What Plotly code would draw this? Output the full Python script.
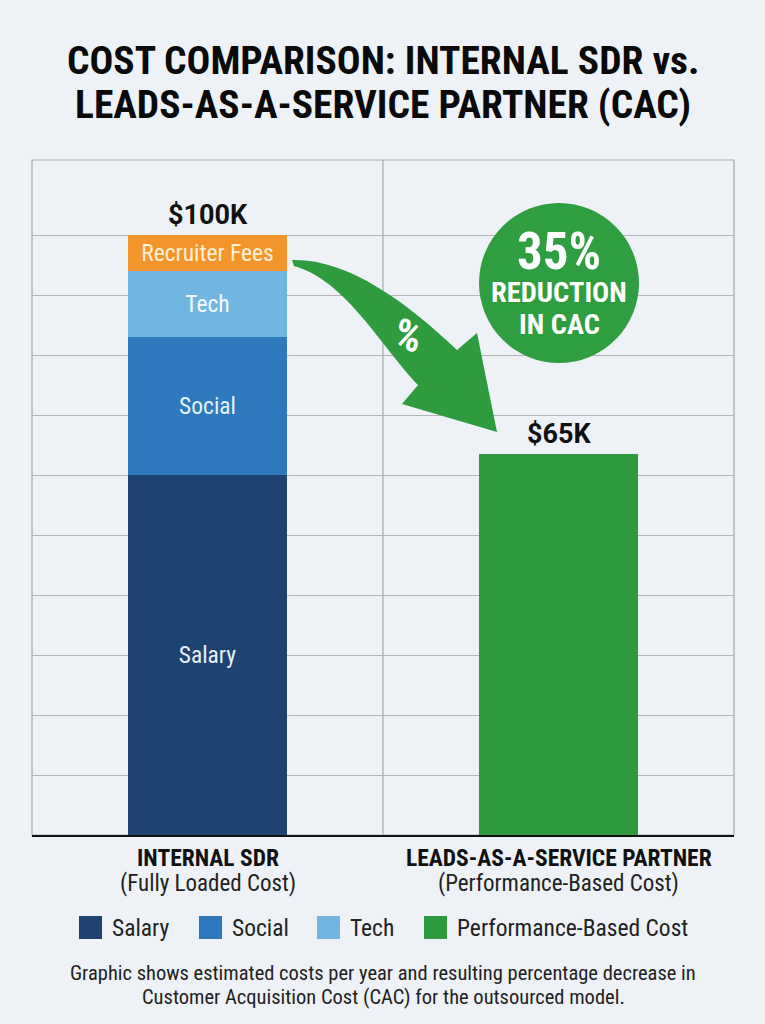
import plotly.graph_objects as go

# ---------------- data ----------------
categories = ["INTERNAL SDR", "LEADS-AS-A-SERVICE PARTNER"]
cat_sub = ["(Fully Loaded Cost)", "(Performance-Based Cost)"]
internal_parts = ["Salary", "Social", "Tech", "Recruiter Fees"]
internal_values = [60, 23, 11, 6]          # $K
partner_value = 63.5                        # $K (bar height as drawn)
total_labels = ["$100K", "$65K"]
reduction_text = ["35%", "REDUCTION", "IN CAC"]
legend_items = ["Salary", "Social", "Tech", "Performance-Based Cost"]
grid_vals = [10, 20, 30, 40, 50, 60, 70, 80, 90, 100]
title_lines = ["COST COMPARISON: INTERNAL SDR vs.", "LEADS-AS-A-SERVICE PARTNER (CAC)"]
footnote_lines = ["Graphic shows estimated costs per year and resulting percentage decrease in",
                  "Customer Acquisition Cost (CAC) for the outsourced model."]

# ---------------- styles ----------------
FONT = "Roboto Condensed, Liberation Sans Narrow, DejaVu Sans Condensed, Roboto, sans-serif"
FONT_WIDE = "Roboto, Arial, sans-serif"
BG = "#EEF2F6"
part_colors = {"Salary": "#1F4370", "Social": "#2E79BD", "Tech": "#70B6E1",
               "Recruiter Fees": "#F4952B", "Performance-Based Cost": "#2E9B3E"}
part_text = {"Salary": "#E6F0FA", "Social": "#E6F2FC", "Tech": "#F4FAFF",
             "Recruiter Fees": "#FFEFD6"}
GREEN = "#2E9B3E"

W, H = 765, 1024
X0, X1, Y0, Y1 = 32, 734, 160, 835   # plot area in pixels


def px(x):
    return (x - X0) / (X1 - X0)


def py(y):
    return (Y1 - y) / (Y1 - Y0)


fig = go.Figure()
for name, val in zip(internal_parts, internal_values):
    fig.add_trace(go.Bar(
        x=[categories[0]], y=[val], name=name,
        marker=dict(color=part_colors[name], line=dict(width=0)),
        width=0.453, text=[name], textposition="inside",
        insidetextanchor="middle", textangle=0,
        textfont=dict(family=FONT, size=23.5, color=part_text[name]),
        showlegend=False, hoverinfo="skip"))
fig.add_trace(go.Bar(
    x=[categories[1]], y=[partner_value], name="Performance-Based Cost",
    marker=dict(color=part_colors["Performance-Based Cost"], line=dict(width=0)),
    width=0.453, showlegend=False, hoverinfo="skip"))

annotations = []
# title
for line, yy in zip(title_lines, [61, 104]):
    annotations.append(dict(x=0.5, y=py(yy), xref="paper", yref="paper", text=f"<b>{line}</b>",
                            showarrow=False, xanchor="center", yanchor="middle",
                            font=dict(family=FONT, size=39.5, color="#0A0A0A")))

# totals above bars
totals = [sum(internal_values), partner_value]
for cat, tot, lab in zip(categories, totals, total_labels):
    annotations.append(dict(x=cat, y=tot, xref="x", yref="y", text=f"<b>{lab}</b>",
                            showarrow=False, xanchor="center", yanchor="bottom", yshift=2,
                            font=dict(family=FONT_WIDE, size=27, color="#111111")))

# category labels
for cat, sub in zip(categories, cat_sub):
    annotations.append(dict(x=cat, y=py(858), xref="x", yref="paper", text=f"<b>{cat}</b>",
                            showarrow=False, xanchor="center", yanchor="middle",
                            font=dict(family=FONT, size=23.5, color="#111111")))
    annotations.append(dict(x=cat, y=py(883), xref="x", yref="paper", text=sub,
                            showarrow=False, xanchor="center", yanchor="middle",
                            font=dict(family=FONT, size=23, color="#222222")))

# circle text
for txt, yy, sz in zip(reduction_text, [251, 292, 324], [51, 28.5, 28.5]):
    annotations.append(dict(x=px(559), y=py(yy), xref="paper", yref="paper",
                            text=f"<b>{txt}</b>", showarrow=False,
                            xanchor="center", yanchor="middle",
                            font=dict(family=FONT, size=sz, color="white")))
# % on arrow
annotations.append(dict(x=px(408), y=py(335), xref="paper", yref="paper", text="<b>%</b>",
                        showarrow=False, xanchor="center", yanchor="middle", textangle=15,
                        font=dict(family=FONT, size=42, color="white")))

# legend (manual)
legend_sq_x = [79, 199, 317, 424]
shapes = []
for name, lx in zip(legend_items, legend_sq_x):
    shapes.append(dict(type="rect", xref="paper", yref="paper",
                       x0=px(lx), x1=px(lx + 23), y0=py(939), y1=py(916),
                       fillcolor=part_colors[name], line=dict(width=0)))
    annotations.append(dict(x=px(lx + 31), y=py(928), xref="paper", yref="paper",
                            text=name, showarrow=False, xanchor="left", yanchor="middle",
                            font=dict(family=FONT, size=23.5, color="#222222")))

# footnote
for line, yy in zip(footnote_lines, [973, 997]):
    annotations.append(dict(x=0.5, y=py(yy), xref="paper", yref="paper", text=line,
                            showarrow=False, xanchor="center", yanchor="middle",
                            font=dict(family=FONT, size=20.5, color="#222222")))

# plot border and middle divider
shapes.append(dict(type="rect", xref="paper", yref="paper", x0=0, x1=1, y0=0, y1=1,
                   line=dict(color="#A8A8A8", width=1.2), layer="below"))
shapes.append(dict(type="line", xref="paper", yref="paper", x0=0.5, x1=0.5, y0=0, y1=1,
                   line=dict(color="#A8A8A8", width=1.2), layer="below"))

# circle
shapes.append(dict(type="circle", xref="paper", yref="paper",
                   x0=px(479), x1=px(639), y0=py(363), y1=py(203),
                   fillcolor="#2F9E40", line=dict(width=0)))


# curved arrow
def P(x, y):
    return f"{px(x):.5f},{py(y):.5f}"


arrow_path = (f"M {P(292, 260)} C {P(345, 258)} {P(405, 300)} {P(457, 350)} "
              f"L {P(477, 333)} L {P(497, 432)} L {P(402, 404)} L {P(418, 385)} "
              f"C {P(380, 345)} {P(345, 280)} {P(294, 266)} Z")
shapes.append(dict(type="path", xref="paper", yref="paper", path=arrow_path,
                   fillcolor=GREEN, line=dict(width=0)))

fig.update_layout(
    width=W, height=H,
    margin=dict(l=X0, r=W - X1, t=Y0, b=H - Y1, pad=0),
    paper_bgcolor=BG, plot_bgcolor=BG,
    barmode="stack", bargap=0,
    xaxis=dict(showticklabels=False, showgrid=False, zeroline=False,
               showline=True, linecolor="#111111", linewidth=2,
               range=[-0.5, 1.5]),
    yaxis=dict(range=[0, 112.5], tickvals=grid_vals, showticklabels=False,
               showgrid=True, gridcolor="#B4B4B4", gridwidth=1, zeroline=False,
               showline=False),
    annotations=annotations, shapes=shapes,
    showlegend=False,
)

fig.write_html("out.html")
